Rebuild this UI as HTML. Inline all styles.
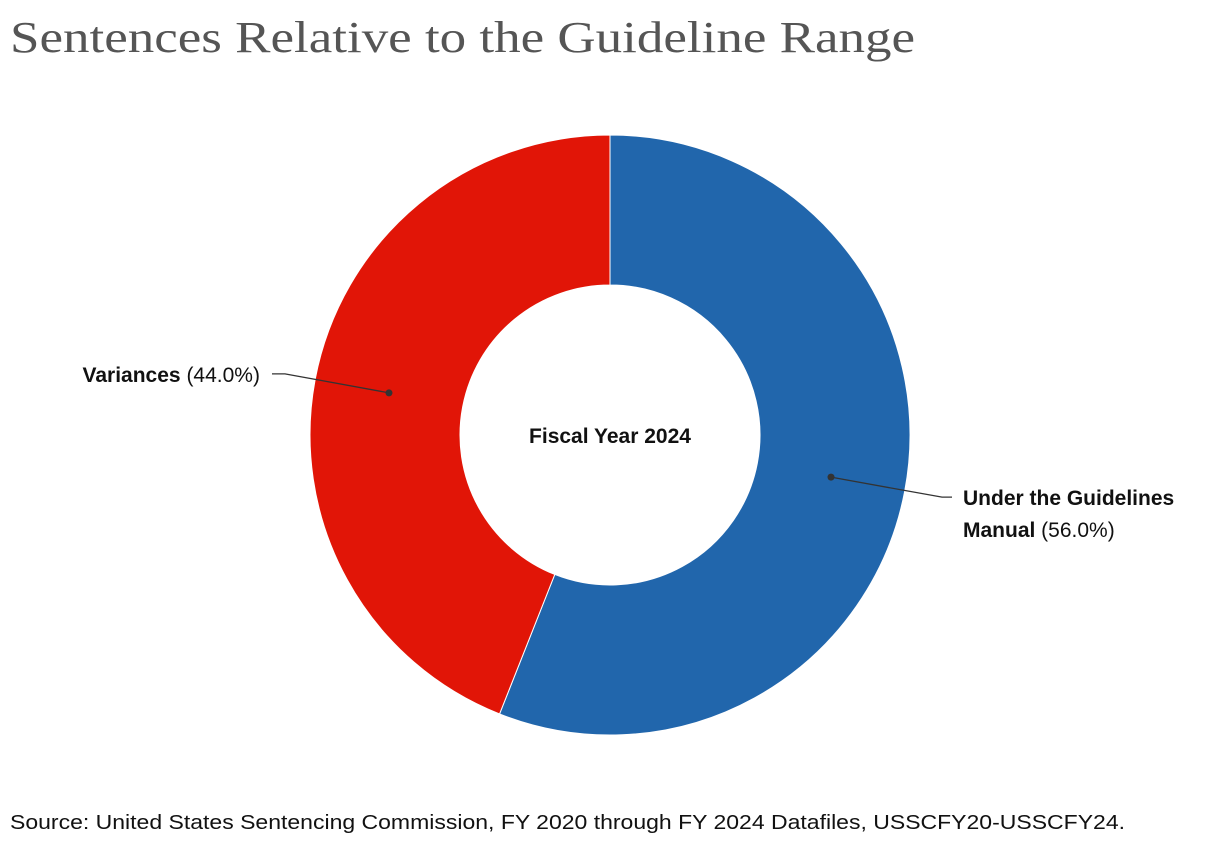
<!DOCTYPE html>
<html><head><meta charset="utf-8"><style>
html,body{margin:0;padding:0;background:#fff;width:1220px;height:846px;overflow:hidden}
svg{display:block}
</style></head><body>
<svg id="chart" width="1220" height="846">
<text x="10" y="52" font-family="Liberation Serif, serif" font-size="44" fill="#555" textLength="905" lengthAdjust="spacingAndGlyphs">Sentences Relative to the Guideline Range</text>
<g id="slices"></g>
<text x="610" y="443" text-anchor="middle" font-family="Liberation Sans, sans-serif" font-size="21" font-weight="bold" fill="#111">Fiscal Year 2024</text>
<g id="labels"></g>
<text x="10" y="829" font-family="Liberation Sans, sans-serif" font-size="20" fill="#111" textLength="1115" lengthAdjust="spacingAndGlyphs">Source: United States Sentencing Commission, FY 2020 through FY 2024 Datafiles, USSCFY20-USSCFY24.</text>
</svg>
<script>
const categories = ["Under the Guidelines Manual", "Variances"];
const values = [56.0, 44.0];
const colors = ["#2166ac", "#e11507"];
const NS = "http://www.w3.org/2000/svg";
const cx = 610, cy = 435, R = 300, r = 150;
const total = values.reduce((a, b) => a + b, 0);
function pt(a, rad) { return [cx + rad * Math.sin(a), cy - rad * Math.cos(a)]; }
const sg = document.getElementById("slices");
const lg = document.getElementById("labels");
let start = 0;
values.forEach((v, i) => {
  const end = start + v / total * 2 * Math.PI;
  const large = end - start > Math.PI ? 1 : 0;
  const [x1, y1] = pt(start, R), [x2, y2] = pt(end, R), [x3, y3] = pt(end, r), [x4, y4] = pt(start, r);
  const p = document.createElementNS(NS, "path");
  p.setAttribute("d", `M${x1},${y1}A${R},${R} 0 ${large} 1 ${x2},${y2}L${x3},${y3}A${r},${r} 0 ${large} 0 ${x4},${y4}Z`);
  p.setAttribute("fill", colors[i]);
  p.setAttribute("stroke", "#fff");
  p.setAttribute("stroke-width", "1");
  
  
  sg.appendChild(p);
  // label
  const mid = (start + end) / 2;
  const [dx, dy] = pt(mid, 225);
  const right = Math.sin(mid) > 0;
  const ex = right ? dx + 111 : dx - 104, ey = dy + (right ? 20 : -19);
  const hx = right ? ex + 10 : ex - 13;
  const line = document.createElementNS(NS, "polyline");
  line.setAttribute("points", `${dx},${dy} ${ex},${ey} ${hx},${ey}`);
  line.setAttribute("fill", "none");
  line.setAttribute("stroke", "#333");
  line.setAttribute("stroke-width", "1.3");
  
  
  lg.appendChild(line);
  const dot = document.createElementNS(NS, "circle");
  dot.setAttribute("cx", dx); dot.setAttribute("cy", dy); dot.setAttribute("r", 3.5);
  dot.setAttribute("fill", "#333");
  
  
  lg.appendChild(dot);
  const t = document.createElementNS(NS, "text");
  t.setAttribute("font-family", "Liberation Sans, sans-serif");
  t.setAttribute("font-size", "21");
  t.setAttribute("fill", "#111");
  
  
  const pct = " (" + v.toFixed(1) + "%)";
  if (right) {
    t.setAttribute("x", hx + 11);
    const words = categories[i].split(" ");
    const a = document.createElementNS(NS, "tspan");
    a.setAttribute("x", hx + 11); a.setAttribute("y", ey + 8); a.setAttribute("font-weight", "bold");
    a.textContent = words.slice(0, 3).join(" ");
    const b = document.createElementNS(NS, "tspan");
    b.setAttribute("x", hx + 11); b.setAttribute("y", ey + 40); b.setAttribute("font-weight", "bold");
    b.textContent = words.slice(3).join(" ");
    const c = document.createElementNS(NS, "tspan");
    c.textContent = pct;
    t.appendChild(a); t.appendChild(b); t.appendChild(c);
  } else {
    t.setAttribute("x", hx - 12); t.setAttribute("y", ey + 8);
    t.setAttribute("text-anchor", "end");
    const a = document.createElementNS(NS, "tspan");
    a.setAttribute("font-weight", "bold");
    a.textContent = categories[i];
    const c = document.createElementNS(NS, "tspan");
    c.textContent = pct;
    t.appendChild(a); t.appendChild(c);
  }
  lg.appendChild(t);
  start = end;
});
</script>
</body></html>
